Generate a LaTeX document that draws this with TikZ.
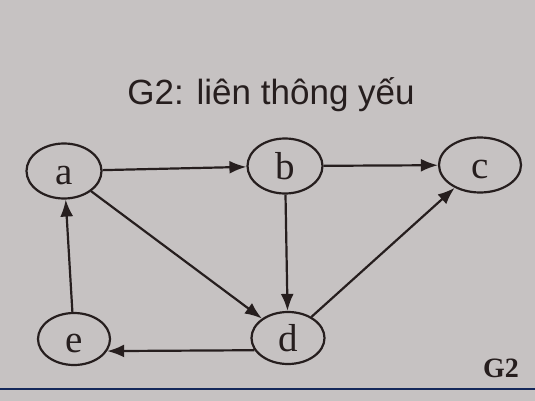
\documentclass[tikz,border=0pt]{standalone}
\usepackage{fontspec}
\setmainfont{Liberation Serif}
\newfontfamily\titlefont{Liberation Sans}
\usetikzlibrary{arrows.meta, positioning, shapes.geometric}

\definecolor{screen}{RGB}{198,194,194}
\definecolor{ink}{RGB}{38,30,30}
\definecolor{rule}{RGB}{20,40,90}

\tikzset{
  vertex/.style={draw=ink, line width=2.2pt, ellipse, minimum width=75pt,
    minimum height=55pt, inner sep=0pt, text=ink,
    font=\fontsize{39}{39}\selectfont, text height=26.5pt, text depth=0pt},
  edge/.style={draw=ink, line width=2.2pt, -{Latex[length=17pt, width=13pt]}}
}

\begin{document}
\begin{tikzpicture}[x=1pt, y=-1pt]
  \fill[screen] (0,0) rectangle (535,401);
  \useasboundingbox (0,0) rectangle (535,401);
  % title
  \node[anchor=base, text=ink] (title) at (271,105)
    {\titlefont\fontsize{35}{35}\selectfont G2: liên thông yếu};
  % vertices
  \node[vertex] (a) at (64,171) {a};
  \node[vertex] (b) at (285,166) {b};
  \node[vertex, minimum width=82pt] (c) at (480,165) {c};
  \node[vertex, minimum width=73pt, minimum height=52pt] (d) at (288,338) {d};
  \node[vertex, minimum width=72pt, minimum height=52pt] (e) at (74,339) {e};
  % arcs
  \draw[edge] (a) -- (b);
  \draw[edge] (b) -- (c);
  \draw[edge] (a) -- (d);
  \draw[edge] (b) -- (d);
  \draw[edge] (d) -- (c);
  \draw[edge] (d.200) -- (e.340);
  \draw[edge] (e) -- (a);
  % caption and rule
  \node[anchor=base, text=ink] (caption) at (501,377)
    {\fontsize{28}{28}\selectfont\bfseries G2};
  \coordinate (ruleL) at (0,389);
  \coordinate (ruleR) at (535,389);
  \draw[rule, line width=1.5pt] (ruleL) -- (ruleR);
\end{tikzpicture}
\end{document}
